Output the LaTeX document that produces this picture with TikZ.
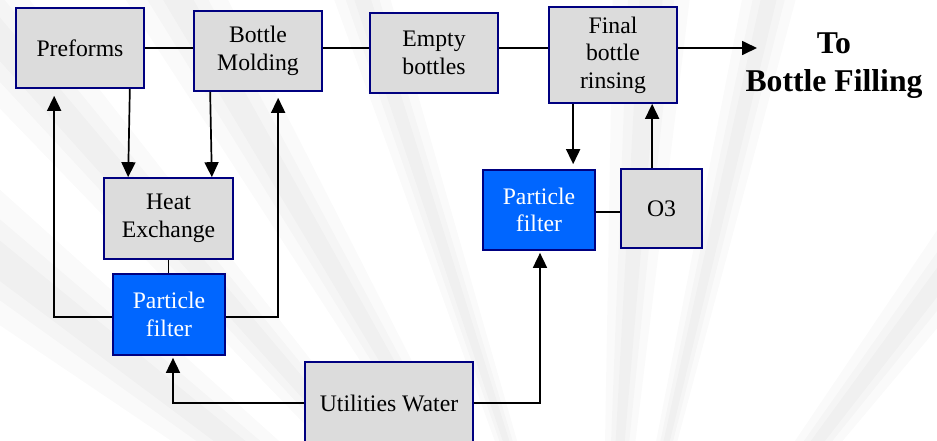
\documentclass[tikz,border=0pt]{standalone}
\usepackage{fontspec}
\setmainfont{Liberation Serif}
\usetikzlibrary{arrows.meta}
\definecolor{boxgray}{HTML}{DCDCDC}
\definecolor{boxblue}{HTML}{0066FF}
\definecolor{edgenavy}{HTML}{000080}
\begin{document}
\begin{tikzpicture}[x=1pt,y=-1pt,
  box/.style={draw=edgenavy, line width=1.7pt, fill=boxgray, inner sep=0pt, align=center,
    font=\fontsize{23.7}{27.5}\selectfont},
  bluebox/.style={box, fill=boxblue, text=white},
  conn/.style={line width=1.7pt, black},
  arr/.style={conn, -{Triangle[length=15pt,width=14pt]}}]
\fill[white] (0,0) rectangle (937,440);
\useasboundingbox (0,0) rectangle (937,440);
% background rays (soft, light)
\begin{scope}
\clip (0,0) rectangle (937,440);
\foreach \a/\w in {-52/4,-41/3,-30/3,-18/2,4/3,13/2,37/3}
  \foreach \k in {1,0.6,0.3}
    \fill[black, opacity=0.018] (600,730) -- +({1300*sin(\a-\w*\k)},{-1300*cos(\a-\w*\k)}) -- +({1300*sin(\a+\w*\k)},{-1300*cos(\a+\w*\k)}) -- cycle;
\end{scope}
% nodes
\node[box, minimum width=128pt, minimum height=80pt] (pre) at (80,48) {Preforms};
\node[box, minimum width=128pt, minimum height=80pt] (mold) at (258,51) {Bottle\\Molding};
\node[box, minimum width=128pt, minimum height=80pt] (empty) at (434,53) {Empty\\bottles};
\node[box, minimum width=128pt, minimum height=96pt] (final) at (613,55) {Final\\bottle\\rinsing};
\node[box, minimum width=129pt, minimum height=81pt] (heat) at (168.5,218.5) {Heat\\Exchange};
\node[bluebox, minimum width=112pt, minimum height=81pt] (pf1) at (169,314.5) {Particle\\filter};
\node[box, minimum width=168pt, minimum height=82pt] (util) at (389,403) {Utilities Water};
\node[bluebox, minimum width=112pt, minimum height=80pt] (pf2) at (539,210) {Particle\\filter};
\node[box, minimum width=81pt, minimum height=79pt] (o3) at (661.5,208.5) {O3};
\node[align=center, inner sep=0pt, font=\fontsize{31.7}{38}\selectfont\bfseries] (tofill) at (834,66) {To\\Bottle Filling};
\coordinate (tip) at (757,48);
% connectors
\draw[conn] (pre.east) -- (pre.east -| mold.west);
\draw[conn] (mold.east |- pre.east) -- (pre.east -| empty.west);
\draw[conn] (empty.east |- pre.east) -- (pre.east -| final.west);
\draw[arr] (final.east |- tip) -- (tip);
\draw[arr] ([xshift=-15pt]pre.south east) -- ([xshift=25pt]heat.north west);
\draw[arr] ([xshift=17pt]mold.south west) -- ([xshift=-22pt]heat.north east);
\draw[conn] (heat.south) -- (heat.south |- pf1.north);
\draw[arr] ([yshift=-2.5pt]pf1.west) -| ([xshift=39pt,yshift=-7pt]pre.south west);
\draw[arr] ([yshift=-2.5pt]pf1.east) -| ([xshift=85pt,yshift=-6pt]mold.south west);
\draw[arr] (util.west) -| ([xshift=4pt,yshift=-2pt]pf1.south);
\draw[arr] (util.east) -| ([xshift=1pt,yshift=-2pt]pf2.south);
\draw[arr] ([xshift=25pt]final.south west) -- ([xshift=91pt,yshift=5pt]pf2.north west);
\draw[arr] ([xshift=32pt]o3.north west) -- ([xshift=104pt]final.south west);
\draw[conn] ([yshift=-2pt]pf2.east) -- ([yshift=-2pt]pf2.east -| o3.west);
\end{tikzpicture}
\end{document}
